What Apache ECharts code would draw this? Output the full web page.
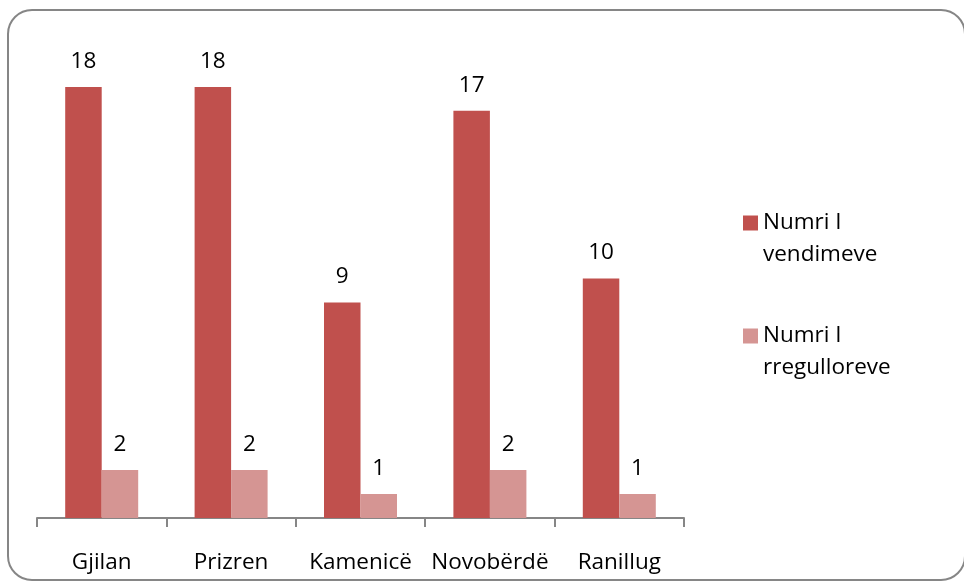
<!DOCTYPE html>
<html>
<head>
<meta charset="utf-8">
<script src="https://cdn.jsdelivr.net/npm/echarts@6/dist/echarts.min.js"></script>
<style>
  html, body { margin: 0; padding: 0; background: #fff; }
  #chart { width: 964px; height: 582px; }
</style>
</head>
<body>
<div id="chart"></div>
<script>
// komunat dhe vlerat
var categories = ["Gjilan", "Prizren", "Kamenicë", "Novobërdë", "Ranillug"];
var vendimeve = [18, 18, 9, 17, 10];
var rregulloreve = [2, 2, 1, 2, 1];
var seriesNames = ["Numri I vendimeve", "Numri I rregulloreve"];

var fontFamily = "'Open Sans', sans-serif";
var chart = echarts.init(document.getElementById("chart"));

function barSeries(name, data, color) {
    return {
        name: name,
        type: "bar",
        data: data,
        barWidth: 36.5,
        barGap: "0%",
        itemStyle: { color: color },
        label: {
            show: true,
            position: "top",
            distance: 14,
            color: "#000",
            fontSize: 22.5,
            fontFamily: fontFamily
        }
    };
}

chart.setOption({
    animation: false,
    backgroundColor: "#fff",
    graphic: [{
        type: "rect",
        shape: { x: 8, y: 10, width: 957, height: 570, r: 24 },
        style: { fill: "none", stroke: "#868686", lineWidth: 2 },
        z: 0
    }],
    grid: { left: 37, right: 280, top: 39, bottom: 64 },
    legend: {
        orient: "vertical",
        left: 738,
        top: 170,
        itemWidth: 15,
        itemHeight: 15,
        itemGap: 17,
        icon: "rect",
        // leave an empty first line so the icon lines up with "Numri I"
        formatter: function (name) { return " \n" + name.replace("I ", "I\n"); },
        textStyle: {
            color: "#000",
            fontSize: 22.5,
            fontFamily: fontFamily,
            lineHeight: 32
        },
        data: seriesNames
    },
    xAxis: {
        type: "category",
        data: categories,
        axisLine: { lineStyle: { color: "#868686", width: 2 } },
        axisTick: { show: true, length: 9, inside: false, alignWithLabel: false, lineStyle: { color: "#868686", width: 2 } },
        axisLabel: { color: "#000", fontSize: 22.5, fontFamily: fontFamily, margin: 33, interval: 0 }
    },
    yAxis: {
        type: "value",
        min: 0,
        max: 20,
        interval: 2,
        show: false,
        splitLine: { show: false }
    },
    series: [
        barSeries(seriesNames[0], vendimeve, "#C0504D"),
        barSeries(seriesNames[1], rregulloreve, "#D59593")
    ]
});
</script>
</body>
</html>
